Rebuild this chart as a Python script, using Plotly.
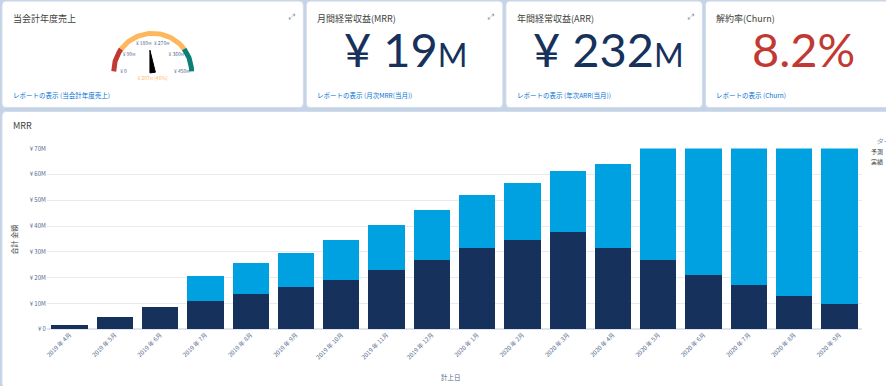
import numpy as np
import plotly.graph_objects as go

W, H = 886, 386

# ---------------- data ----------------
months = ["2019 年 4月", "2019 年 5月", "2019 年 6月", "2019 年 7月", "2019 年 8月", "2019 年 9月",
          "2019 年 10月", "2019 年 11月", "2019 年 12月", "2020 年 1月", "2020 年 2月", "2020 年 3月",
          "2020 年 4月", "2020 年 5月", "2020 年 6月", "2020 年 7月", "2020 年 8月", "2020 年 9月"]
actual = [1.8, 4.6, 8.5, 10.8, 13.6, 16.3, 19.0, 23.1, 27.0, 31.4, 34.5, 37.6, 31.4, 27.0, 21.2, 17.0, 13.0, 9.8]
forecast = [0, 0, 0, 10.0, 12.2, 13.2, 15.5, 17.1, 19.2, 20.5, 22.3, 23.8, 32.6, 46, 53, 58, 63, 67]
ytick_vals = [0, 10, 20, 30, 40, 50, 60, 70]
ytick_text = ["¥ 0", "¥ 10M", "¥ 20M", "¥ 30M", "¥ 40M", "¥ 50M", "¥ 60M", "¥ 70M"]

gauge_max = 450
gauge_value = 207
gauge_bands = [(0, 90, "#c23934"), (90, 360, "#ffb75d"), (360, 450, "#0b7f73")]
gauge_ticks = [0, 90, 180, 270, 360, 450]
gauge_tick_text = ["¥ 0", "¥ 90M", "¥ 180M", "¥ 270M", "¥ 360M", "¥ 450M"]

cards = [
    dict(title="当会計年度売上", value=None, link="レポートの表示 (当会計年度売上)"),
    dict(title="月間経常収益(MRR)", value="¥ 19<span style='font-size:32px'>M</span>", link="レポートの表示 (月次MRR(当月))"),
    dict(title="年間経常収益(ARR)", value="¥ 232<span style='font-size:32px'>M</span>", link="レポートの表示 (年次ARR(当月))"),
    dict(title="解約率(Churn)", value="8.2%", link="レポートの表示 (Churn)"),
]

# ---------------- helpers ----------------
def px(x):
    return x / W

def py(y):
    return 1 - y / H

def rrect(x0, y0, x1, y1, r=4):
    X = lambda v: px(v)
    Y = lambda v: py(v)
    return (f"M {X(x0+r)},{Y(y0)} L {X(x1-r)},{Y(y0)} Q {X(x1)},{Y(y0)} {X(x1)},{Y(y0+r)} "
            f"L {X(x1)},{Y(y1-r)} Q {X(x1)},{Y(y1)} {X(x1-r)},{Y(y1)} "
            f"L {X(x0+r)},{Y(y1)} Q {X(x0)},{Y(y1)} {X(x0)},{Y(y1-r)} "
            f"L {X(x0)},{Y(y0+r)} Q {X(x0)},{Y(y0)} {X(x0+r)},{Y(y0)} Z")

JP = "Noto Sans CJK JP"
NAVY = "#16325c"
LIGHT = "#00a1e0"

fig = go.Figure()

# ---------------- main stacked bars ----------------
fig.add_trace(go.Bar(x=months, y=actual, name="実績", marker=dict(color=NAVY, line=dict(width=0)),
                     xaxis="x", yaxis="y"))
fig.add_trace(go.Bar(x=months, y=forecast, name="予測", marker=dict(color=LIGHT, line=dict(width=0)),
                     xaxis="x", yaxis="y"))

# ---------------- gauge ----------------
for a, b, c in gauge_bands:
    th = np.linspace(np.pi * (1 - a / gauge_max), np.pi * (1 - b / gauge_max), 40)
    fig.add_trace(go.Scatter(x=np.cos(th), y=np.sin(th), mode="lines",
                             line=dict(color=c, width=5), xaxis="x2", yaxis="y2",
                             hoverinfo="skip", showlegend=False))
tth = np.pi * (1 - np.array(gauge_ticks) / gauge_max)
rl = 0.75
fig.add_trace(go.Scatter(x=rl * np.cos(tth), y=rl * np.sin(tth), mode="text",
                         text=[t.replace("M", "<span style='font-size:4px'>M</span>") for t in gauge_tick_text],
                         textfont=dict(family=JP, size=5, color="#54698d"),
                         xaxis="x2", yaxis="y2", hoverinfo="skip", showlegend=False))
tv = np.pi * (1 - gauge_value / gauge_max)
nl, nw = 0.56, 0.07
needle_x = [nw * np.cos(tv + np.pi / 2), nl * np.cos(tv), nw * np.cos(tv - np.pi / 2)]
needle_y = [nw * np.sin(tv + np.pi / 2) - 0.03, nl * np.sin(tv), nw * np.sin(tv - np.pi / 2) - 0.03]
fig.add_trace(go.Scatter(x=needle_x + [needle_x[0]], y=needle_y + [needle_y[0]], mode="lines",
                         fill="toself", fillcolor="#000000", line=dict(color="#000000", width=1),
                         xaxis="x2", yaxis="y2", hoverinfo="skip", showlegend=False))
fig.add_trace(go.Scatter(x=[0], y=[-0.19], mode="text",
                         text=[f"¥ {gauge_value}<span style='font-size:4px'>M</span> ({round(gauge_value / gauge_max * 100)}%)"],
                         textfont=dict(family=JP, size=5, color="#ffb75d"),
                         xaxis="x2", yaxis="y2", hoverinfo="skip", showlegend=False))

# ---------------- card shapes ----------------
shapes = []
card_boxes = [(0, 0, 302, 105), (305, 0, 502, 105), (505, 0, 702, 105), (705, 0, 890, 105)]
for (x0, y0, x1, y1) in card_boxes:
    shapes.append(dict(type="path", path=rrect(x0, y0 - 4, x1, y1), xref="paper", yref="paper",
                       fillcolor="white", line=dict(color="#d4dce8", width=1), layer="below"))
shapes.append(dict(type="path", path=rrect(0, 109, 894, 392), xref="paper", yref="paper",
                   fillcolor="white", line=dict(color="#d4dce8", width=1), layer="below"))

annotations = []
for i, ((x0, y0, x1, y1), c) in enumerate(zip(card_boxes, cards)):
    annotations.append(dict(x=px(x0 + 9), y=py(14), xref="paper", yref="paper", text=c["title"],
                            showarrow=False, xanchor="left", yanchor="middle",
                            font=dict(family=JP, size=9, color="#3e3e3c")))
    annotations.append(dict(x=px(x0 + 9), y=py(92), xref="paper", yref="paper", text=c["link"],
                            showarrow=False, xanchor="left", yanchor="middle",
                            font=dict(family=JP, size=6.5, color="#0070d2")))
    if i < 3:
        annotations.append(dict(x=px(x1 - 12), y=py(12), xref="paper", yref="paper", text="⤢",
                                showarrow=False, xanchor="center", yanchor="middle",
                                font=dict(family="DejaVu Sans", size=8, color="#8a96a8")))
    if c["value"]:
        col = "#c23934" if i == 3 else NAVY
        cx = {1: 405, 2: 608, 3: 803}[i]
        annotations.append(dict(x=px(cx), y=py(45), xref="paper", yref="paper", text=c["value"],
                                showarrow=False, xanchor="center", yanchor="middle",
                                font=dict(family="Lato", size=47, color=col)))

annotations += [
    dict(x=px(9), y=py(123), xref="paper", yref="paper", text="MRR", showarrow=False,
         xanchor="left", yanchor="middle", font=dict(family=JP, size=9, color="#3e3e3c")),
    dict(x=px(12), y=py(240), xref="paper", yref="paper", text="合計 金額", showarrow=False,
         textangle=-90, xanchor="center", yanchor="middle", font=dict(family=JP, size=7, color="#3e3e3c")),
    dict(x=px(450), y=py(381), xref="paper", yref="paper", text="計上日", showarrow=False,
         xanchor="center", yanchor="middle", font=dict(family=JP, size=6.5, color="#54698d")),
    dict(x=px(874), y=py(139), xref="paper", yref="paper", text="<i>タイプ</i>", showarrow=False,
         xanchor="left", yanchor="middle", font=dict(family=JP, size=7, color="#8a96a8")),
    dict(x=px(869), y=py(150), xref="paper", yref="paper", text="予測", showarrow=False,
         xanchor="left", yanchor="middle", font=dict(family=JP, size=6, color="#3e3e3c")),
    dict(x=px(869), y=py(160), xref="paper", yref="paper", text="実績", showarrow=False,
         xanchor="left", yanchor="middle", font=dict(family=JP, size=6, color="#3e3e3c")),
]

# gauge axis geometry (equal px scale)
gx0, gx1, gy0, gy1 = 100, 202, 20, 80
scale = 39.0
cxp, cyp = 151, 68

fig.update_layout(
    width=W, height=H, margin=dict(l=0, r=0, t=0, b=0),
    paper_bgcolor="#c3d3e8", plot_bgcolor="rgba(0,0,0,0)",
    barmode="stack", bargap=0.2, showlegend=False,
    shapes=shapes, annotations=annotations,
    font=dict(family=JP),
    xaxis=dict(domain=[px(45), px(862)], tickangle=-45, showgrid=False, showline=False,
               tickfont=dict(family=JP, size=6, color="#54698d"), ticks="", fixedrange=True),
    yaxis=dict(domain=[py(332), py(147)], range=[0, 70], tickvals=ytick_vals, ticktext=ytick_text,
               showgrid=True, gridcolor="#e6ebf2", gridwidth=1, zeroline=True, zerolinecolor="#dfe5ee",
               tickfont=dict(family=JP, size=6, color="#54698d"), ticks="", fixedrange=True),
    xaxis2=dict(domain=[px(gx0), px(gx1)], range=[(gx0 - cxp) / scale, (gx1 - cxp) / scale],
                visible=False, fixedrange=True),
    yaxis2=dict(domain=[py(gy1), py(gy0)], range=[(cyp - gy1) / scale, (cyp - gy0) / scale],
                visible=False, fixedrange=True),
)

fig.write_html("out.html", config={"displayModeBar": False},
               post_script="document.body.style.margin='0';document.body.style.overflow='hidden';")
